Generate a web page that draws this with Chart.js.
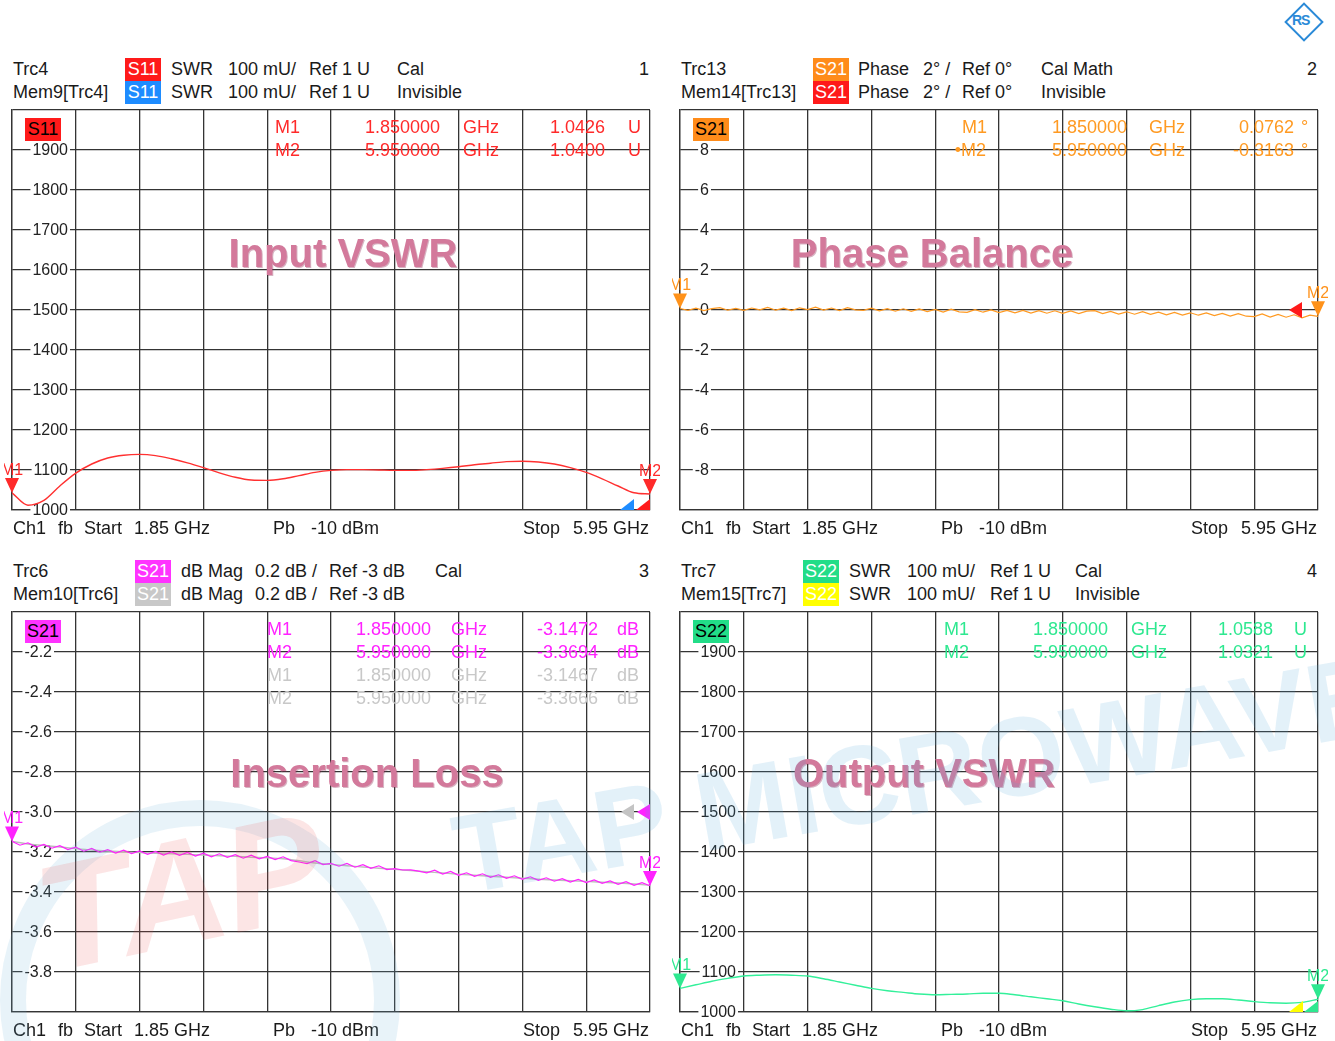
<!DOCTYPE html>
<html>
<head>
<meta charset="utf-8">
<script src="https://cdn.jsdelivr.net/npm/chart.js@4/dist/chart.umd.min.js"></script>
<style>
  html, body { margin: 0; padding: 0; background: #fff; }
  #page { position: relative; width: 1335px; height: 1041px; overflow: hidden;
          font-family: "Liberation Sans", Arial, sans-serif; }
  .t { position: absolute; font-size: 18px; line-height: 18px; white-space: pre; color: #1a1a1a; }
  .box { position: absolute; width: 36px; height: 23px; font-size: 18px; line-height: 23px;
         text-align: center; color: #fff; }
  .title { position: absolute; font-weight: bold; font-size: 40px; line-height: 40px; color: #d3799b;
           white-space: pre; transform: translate(-50%, -50%); text-shadow: 1px 1px 0 rgba(140,40,80,0.35); }
  .wm { position: absolute; white-space: pre; pointer-events: none; }
  canvas { position: absolute; }
</style>
</head>
<body>
<div id="page"></div>
<script>
// sweep 1.85 .. 5.95 GHz
const SWEEP_START = 1.85;
const SWEEP_STOP = 5.95;
const xGridGHz = [1.85, 2.26, 2.67, 3.08, 3.49, 3.90, 4.31, 4.72, 5.13, 5.54, 5.95];

// y grids / tick labels
const swrGrid = [1000, 1100, 1200, 1300, 1400, 1500, 1600, 1700, 1800, 1900, 2000];
const swrTickLabels = [1900, 1800, 1700, 1600, 1500, 1400, 1300, 1200, 1100, 1000];
const phaseGrid = [-10, -8, -6, -4, -2, 0, 2, 4, 6, 8, 10];
const phaseTickLabels = [8, 6, 4, 2, 0, -2, -4, -6, -8];
const lossGrid = [-4.0, -3.8, -3.6, -3.4, -3.2, -3.0, -2.8, -2.6, -2.4, -2.2, -2.0];
const lossTickLabels = [-2.2, -2.4, -2.6, -2.8, -3.0, -3.2, -3.4, -3.6, -3.8];

// S11 SWR (mU), 41 pts
const s11Swr = [
  1043, 1012, 1024, 1060, 1092, 1115, 1130, 1137, 1139, 1136,
  1128, 1118, 1106, 1093, 1082, 1075, 1074, 1078, 1086, 1094,
  1099, 1101, 1101, 1100, 1099, 1099, 1101, 1104, 1108, 1113,
  1117, 1121, 1122, 1120, 1115, 1106, 1094, 1078, 1060, 1043, 1040
];

// S21 phase difference (deg), 81 pts
const s21Phase = [
  0.076, -0.02, 0.09, -0.03, 0.07, 0.12, -0.01, 0.08,
  -0.02, 0.10, 0.01, 0.13, -0.01, 0.09, -0.03, 0.11,
  0.02, 0.14, 0.00, 0.10, -0.03, 0.12, 0.01, -0.02,
  0.09, -0.04, 0.07, -0.06, 0.06, -0.07, 0.05, -0.08,
  0.03, -0.10, 0.04, -0.09, -0.12, 0.02, -0.11, 0.00,
  -0.13, -0.02, -0.14, -0.02, -0.15, -0.03, -0.16, -0.04,
  -0.17, -0.05, -0.18, -0.06, -0.03, -0.18, -0.07, -0.20,
  -0.09, -0.21, -0.08, -0.22, -0.11, -0.24, -0.12, -0.25,
  -0.14, -0.26, -0.15, -0.28, -0.17, -0.30, -0.18, -0.31,
  -0.33, -0.20, -0.35, -0.22, -0.36, -0.24, -0.39, -0.26,
  -0.316
];

// S21 insertion loss (dB), 81 pts
const s21Loss = [
  -3.147, -3.166, -3.154, -3.175, -3.162, -3.181, -3.168, -3.188,
  -3.176, -3.196, -3.182, -3.201, -3.188, -3.205, -3.191, -3.208,
  -3.195, -3.212, -3.197, -3.215, -3.200, -3.217, -3.202, -3.220,
  -3.206, -3.224, -3.209, -3.227, -3.213, -3.231, -3.216, -3.234,
  -3.222, -3.238, -3.224, -3.243, -3.250, -3.258, -3.243, -3.263,
  -3.257, -3.271, -3.257, -3.276, -3.263, -3.282, -3.269, -3.288,
  -3.283, -3.290, -3.289, -3.296, -3.304, -3.291, -3.310, -3.297,
  -3.317, -3.304, -3.322, -3.309, -3.327, -3.314, -3.332, -3.319,
  -3.337, -3.324, -3.342, -3.329, -3.346, -3.333, -3.350, -3.337,
  -3.353, -3.340, -3.357, -3.345, -3.362, -3.348, -3.367, -3.353,
  -3.369
];

// memory trace Mem10[Trc6], 41 pts
const s21LossMem = [
  -3.147, -3.160, -3.167, -3.175, -3.183, -3.190, -3.195, -3.199, -3.203, -3.206,
  -3.209, -3.212, -3.215, -3.219, -3.222, -3.226, -3.229, -3.234, -3.244, -3.255,
  -3.262, -3.269, -3.275, -3.281, -3.287, -3.293, -3.299, -3.305, -3.311, -3.316,
  -3.321, -3.326, -3.331, -3.336, -3.340, -3.344, -3.347, -3.351, -3.355, -3.360, -3.3666
];

// S22 SWR (mU), 41 pts
const s22Swr = [
  1059, 1068, 1077, 1084, 1090, 1092, 1093, 1092, 1090, 1083,
  1075, 1067, 1059, 1053, 1049, 1045, 1043, 1044, 1045, 1047,
  1047, 1043, 1038, 1033, 1028, 1020, 1013, 1007, 1003, 1006,
  1016, 1025, 1031, 1033, 1033, 1030, 1026, 1023, 1022, 1024, 1032
];

// markers M1 / M2
const markerFreqs = [1.85, 5.95];
const s11Markers = [1042.6, 1040.0];
const phaseMarkers = [0.0762, -0.3163];
const lossMarkers = [-3.1472, -3.3694];
const s22Markers = [1058.8, 1032.1];

const refSwr = 1000, refPhase = 0, refLoss = -3;

const GRID = '#343434';
const FONT = '"Liberation Sans", Arial, sans-serif';
const page = document.getElementById('page');

function put(x, y, s, color, right) {
  const d = document.createElement('div');
  d.className = 't';
  d.textContent = s;
  d.style.left = x + 'px';
  d.style.top = (y - 9) + 'px';
  if (color) d.style.color = color;
  if (right) d.style.transform = 'translateX(-100%)';
  page.appendChild(d);
}
function box(x, y, s, bg, fg) {
  const d = document.createElement('div');
  d.className = 'box';
  d.textContent = s;
  d.style.left = x + 'px';
  d.style.top = (y - 11.5) + 'px';
  d.style.background = bg;
  if (fg) d.style.color = fg;
  page.appendChild(d);
}

function sweep(vals) {
  const n = vals.length - 1;
  return vals.map((v, i) => ({ x: SWEEP_START + i * (SWEEP_STOP - SWEEP_START) / n, y: v }));
}

const panels = [
  { left: 12, top: 110, yMin: 1000, yMax: 2000, yGrid: swrGrid, yLabels: swrTickLabels, dec: 0, labelRight: 56,
    traces: [{ values: s11Swr, color: '#ff3030', smooth: true }],
    markers: { values: s11Markers, color: '#ff2a2a' },
    refs: [{ v: refSwr, color: '#1e8cff', kind: 'corner', off: 16 }, { v: refSwr, color: '#ff1a1a', kind: 'corner', off: 0 }] },
  { left: 680, top: 110, yMin: -10, yMax: 10, yGrid: phaseGrid, yLabels: phaseTickLabels, dec: 0, labelRight: 29,
    traces: [{ values: s21Phase, color: '#ff9a22', smooth: false }],
    markers: { values: phaseMarkers, color: '#ff921a' },
    refs: [{ v: refPhase, color: '#ff1a1a', kind: 'left', off: 16 }] },
  { left: 12, top: 612, yMin: -4, yMax: -2, yGrid: lossGrid, yLabels: lossTickLabels, dec: 1, labelRight: 40,
    traces: [{ values: s21Loss, color: '#ff22ff', smooth: false }, { values: s21LossMem, color: '#bdbdbd', smooth: true }],
    markers: { values: lossMarkers, color: '#ff22ff' },
    refs: [{ v: refLoss, color: '#c4c4c4', kind: 'left', off: 16 }, { v: refLoss, color: '#ff22ff', kind: 'left', off: 0 }] },
  { left: 680, top: 612, yMin: 1000, yMax: 2000, yGrid: swrGrid, yLabels: swrTickLabels, dec: 0, labelRight: 56,
    traces: [{ values: s22Swr, color: '#33f09a', smooth: true }],
    markers: { values: s22Markers, color: '#2ee890' },
    refs: [{ v: refSwr, color: '#ffff00', kind: 'corner', off: 15 }, { v: refSwr, color: '#2ee890', kind: 'corner', off: 0 }] }
];

const PAD = { left: 8, right: 10, top: 2, bottom: 10 };

const vnaPlugin = {
  id: 'vna',
  beforeDatasetsDraw(chart) {
    const p = panels[+chart.canvas.dataset.idx];
    const { ctx, chartArea: a, scales: { y } } = chart;
    ctx.save();
    ctx.font = '16px ' + FONT;
    ctx.textAlign = 'right';
    ctx.textBaseline = 'middle';
    p.yLabels.forEach(v => {
      const py = y.getPixelForValue(v);
      const s = v.toFixed(p.dec);
      const w = ctx.measureText(s).width;
      const rx = a.left + p.labelRight;
      ctx.fillStyle = '#fff';
      ctx.fillRect(rx - w - 2, py - 6, w + 4, 12);
      ctx.fillStyle = '#222';
      ctx.fillText(s, rx, py + 1);
    });
    ctx.restore();
  },
  afterDatasetsDraw(chart) {
    const p = panels[+chart.canvas.dataset.idx];
    const { ctx, chartArea: a, scales: { x, y } } = chart;
    ctx.save();
    p.refs.forEach(r => {
      const py = y.getPixelForValue(r.v);
      const bx = a.right - r.off;
      ctx.fillStyle = r.color;
      ctx.beginPath();
      if (r.kind === 'left') {
        ctx.moveTo(bx - 13, py); ctx.lineTo(bx, py - 8); ctx.lineTo(bx, py + 8);
      } else {
        ctx.moveTo(bx - 14, py); ctx.lineTo(bx, py); ctx.lineTo(bx, py - 11);
      }
      ctx.closePath();
      ctx.fill();
    });
    ctx.font = '16px ' + FONT;
    ctx.textAlign = 'center';
    ctx.textBaseline = 'alphabetic';
    p.markers.values.forEach((v, i) => {
      const px = x.getPixelForValue(markerFreqs[i]);
      const py = y.getPixelForValue(v);
      ctx.fillStyle = p.markers.color;
      ctx.beginPath();
      ctx.moveTo(px - 7, py - 15); ctx.lineTo(px + 7, py - 15); ctx.lineTo(px, py);
      ctx.closePath();
      ctx.fill();
      ctx.fillText('M' + (i + 1), px, py - 18);
    });
    ctx.restore();
  }
};

panels.forEach((p, idx) => {
  const cv = document.createElement('canvas');
  const w = 638 + PAD.left + PAD.right, h = 400 + PAD.top + PAD.bottom;
  cv.width = w; cv.height = h;
  cv.style.width = w + 'px'; cv.style.height = h + 'px';
  cv.style.left = (p.left - PAD.left) + 'px';
  cv.style.top = (p.top - PAD.top) + 'px';
  cv.dataset.idx = idx;
  page.appendChild(cv);

  new Chart(cv, {
    type: 'line',
    data: {
      datasets: p.traces.map(t => ({
        data: sweep(t.values),
        borderColor: t.color,
        borderWidth: t.smooth ? 1.4 : 1.2,
        pointRadius: 0,
        fill: false,
        cubicInterpolationMode: t.smooth ? 'monotone' : 'default',
        tension: 0
      }))
    },
    options: {
      responsive: false,
      animation: false,
      devicePixelRatio: 1,
      layout: { padding: PAD },
      plugins: { legend: { display: false }, tooltip: { enabled: false } },
      scales: {
        x: {
          type: 'linear', min: SWEEP_START, max: SWEEP_STOP,
          ticks: { display: false },
          grid: { color: GRID, lineWidth: 1.3, drawTicks: false },
          border: { color: GRID, width: 1.3 },
          afterBuildTicks: s => { s.ticks = xGridGHz.map(v => ({ value: v })); }
        },
        y: {
          min: p.yMin, max: p.yMax,
          ticks: { display: false },
          grid: { color: GRID, lineWidth: 1.3, drawTicks: false },
          border: { color: GRID, width: 1.3 },
          afterBuildTicks: s => { s.ticks = p.yGrid.map(v => ({ value: v })); }
        }
      }
    },
    plugins: [vnaPlugin]
  });
});

// --- headers ---
// 1
put(13, 69, 'Trc4'); box(125, 69, 'S11', '#ff1a1a'); put(171, 69, 'SWR'); put(228, 69, '100 mU/');
put(309, 69, 'Ref 1 U'); put(397, 69, 'Cal'); put(649, 69, '1', null, true);
put(13, 92, 'Mem9[Trc4]'); box(125, 92, 'S11', '#1e8cff'); put(171, 92, 'SWR'); put(228, 92, '100 mU/');
put(309, 92, 'Ref 1 U'); put(397, 92, 'Invisible');
// 2
put(681, 69, 'Trc13'); box(813, 69, 'S21', '#ff8c1a'); put(858, 69, 'Phase'); put(923, 69, '2° /');
put(962, 69, 'Ref 0°'); put(1041, 69, 'Cal Math'); put(1317, 69, '2', null, true);
put(681, 92, 'Mem14[Trc13]'); box(813, 92, 'S21', '#ff1a1a'); put(858, 92, 'Phase'); put(923, 92, '2° /');
put(962, 92, 'Ref 0°'); put(1041, 92, 'Invisible');
// 3
put(13, 571, 'Trc6'); box(135, 571, 'S21', '#ff33ff'); put(181, 571, 'dB Mag'); put(255, 571, '0.2 dB /');
put(329, 571, 'Ref -3 dB'); put(435, 571, 'Cal'); put(649, 571, '3', null, true);
put(13, 594, 'Mem10[Trc6]'); box(135, 594, 'S21', '#c8c8c8'); put(181, 594, 'dB Mag'); put(255, 594, '0.2 dB /');
put(329, 594, 'Ref -3 dB');
// 4
put(681, 571, 'Trc7'); box(803, 571, 'S22', '#22dd88'); put(849, 571, 'SWR'); put(907, 571, '100 mU/');
put(990, 571, 'Ref 1 U'); put(1075, 571, 'Cal'); put(1317, 571, '4', null, true);
put(681, 594, 'Mem15[Trc7]'); box(803, 594, 'S22', '#ffff00'); put(849, 594, 'SWR'); put(907, 594, '100 mU/');
put(990, 594, 'Ref 1 U'); put(1075, 594, 'Invisible');

// --- footers ---
[[0, 528], [668, 528], [0, 1030], [668, 1030]].forEach(([dx, y]) => {
  put(13 + dx, y, 'Ch1'); put(58 + dx, y, 'fb'); put(84 + dx, y, 'Start'); put(134 + dx, y, '1.85 GHz');
  put(273 + dx, y, 'Pb'); put(311 + dx, y, '-10 dBm'); put(523 + dx, y, 'Stop');
  put(649 + dx, y, '5.95 GHz', null, true);
});

// --- trace labels inside plot ---
box(25, 129, 'S11', '#ff1a1a', '#000');
box(693, 129, 'S21', '#ff8c1a', '#000');
box(25, 631, 'S21', '#ff33ff', '#000');
box(693, 631, 'S22', '#22dd88', '#000');

// --- marker readouts ---
function readout(y, c, m, f, unitX, val, valR, unit, unitAt, unitRight) {
  put(m[0], y, m[1], c, m[2]);
  put(f[0], y, f[1], c, true);
  put(unitX, y, 'GHz', c);
  put(valR, y, val, c, true);
  put(unitAt, y, unit, c, unitRight);
}
readout(127, '#ff2a2a', [275, 'M1'], [440, '1.850000'], 463, '1.0426', 605, 'U', 641, true);
readout(150, '#ff2a2a', [275, 'M2'], [440, '5.950000'], 463, '1.0400', 605, 'U', 641, true);
readout(127, '#ff9a22', [962, 'M1'], [1127, '1.850000'], 1149, '0.0762', 1294, '°', 1301, false);
readout(150, '#ff9a22', [986, '•M2', true], [1127, '5.950000'], 1149, '-0.3163', 1294, '°', 1301, false);
readout(629, '#ff22ff', [267, 'M1'], [431, '1.850000'], 451, '-3.1472', 598, 'dB', 617, false);
readout(652, '#ff22ff', [267, 'M2'], [431, '5.950000'], 451, '-3.3694', 598, 'dB', 617, false);
readout(675, '#c8c8c8', [267, 'M1'], [431, '1.850000'], 451, '-3.1467', 598, 'dB', 617, false);
readout(698, '#c8c8c8', [267, 'M2'], [431, '5.950000'], 451, '-3.3666', 598, 'dB', 617, false);
readout(629, '#2ee890', [944, 'M1'], [1108, '1.850000'], 1131, '1.0588', 1273, 'U', 1307, true);
readout(652, '#2ee890', [944, 'M2'], [1108, '5.950000'], 1131, '1.0321', 1273, 'U', 1307, true);

// --- overlay titles ---
[['Input VSWR', 343, 253], ['Phase Balance', 932, 253], ['Insertion Loss', 367, 773], ['Output VSWR', 924, 773]]
  .forEach(([s, x, y]) => {
    const d = document.createElement('div');
    d.className = 'title';
    d.textContent = s;
    d.style.left = x + 'px';
    d.style.top = y + 'px';
    page.appendChild(d);
  });

// --- watermark ---
function wm(html, css) {
  const d = document.createElement('div');
  d.className = 'wm';
  d.textContent = html;
  Object.assign(d.style, css);
  page.appendChild(d);
}
wm('', { left: '0px', top: '800px', width: '400px', height: '400px', borderRadius: '50%',
         border: '26px solid rgba(110,180,220,0.16)', boxSizing: 'border-box' });
wm('TAP', { left: '55px', top: '845px', font: 'italic bold 150px ' + FONT, color: 'rgba(235,80,80,0.15)',
            transform: 'rotate(-12deg)', transformOrigin: 'left bottom', lineHeight: '150px' });
wm('TAP MICROWAVE', { left: '465px', top: '800px', font: 'bold 112px ' + FONT, color: 'rgba(80,165,215,0.16)',
                      transform: 'rotate(-10deg)', transformOrigin: 'left bottom', lineHeight: '112px' });

// --- R&S logo ---
wm('', { left: '1290px', top: '8px', width: '24px', height: '24px', border: '2px solid #2a8ad8',
         transform: 'rotate(45deg)' });
wm('RS', { left: '1292px', top: '12px', font: 'bold 14px ' + FONT, color: '#2a8ad8', letterSpacing: '-1px' });
</script>
</body>
</html>
